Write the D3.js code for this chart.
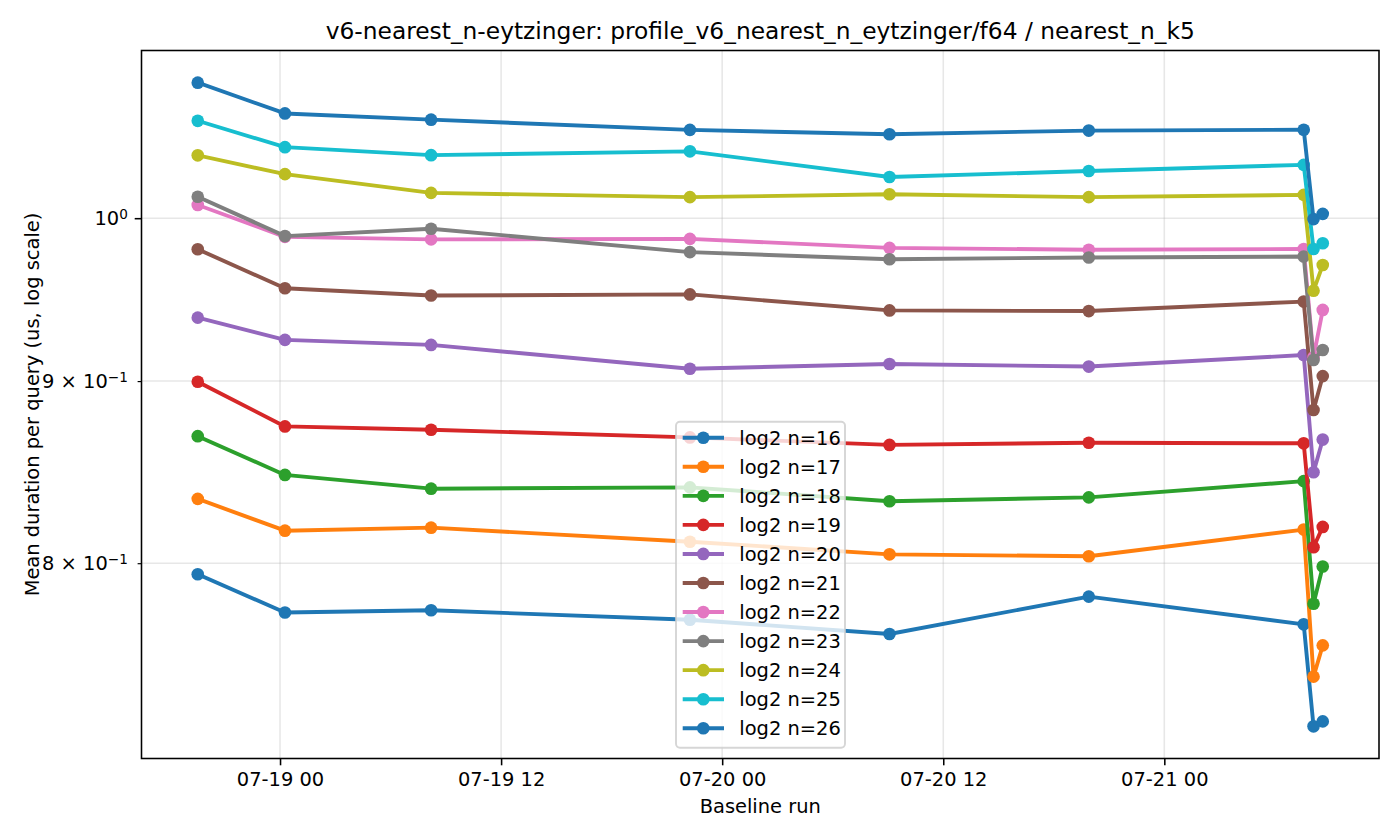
<!DOCTYPE html>
<html lang="en">
<head>
<meta charset="UTF-8">
<script src="https://d3js.org/d3.v7.min.js"></script>
<style>
    body{ margin:0; background:#fff; }
    text{ font-family:"DejaVu Sans", sans-serif; fill:#000; }
</style>
<title>v6-nearest_n-eytzinger</title>
</head>
<body>
<div class="canvas"></div>
<script>
// baseline run timestamps (UTC)
const runTimes = ['2025-07-18 19:32', '2025-07-19 00:16', '2025-07-19 08:12', '2025-07-19 22:15',
                  '2025-07-20 09:05', '2025-07-20 19:54', '2025-07-21 07:34', '2025-07-21 08:06', '2025-07-21 08:36'];

// mean duration per query (us), one array per log2 n
const n16 = [0.7943, 0.7749, 0.7760, 0.7713, 0.7642, 0.7829, 0.7690, 0.7199, 0.7222];
const n17 = [0.8340, 0.8170, 0.8186, 0.8112, 0.8046, 0.8036, 0.8176, 0.7434, 0.7586];
const n18 = [0.8685, 0.8470, 0.8395, 0.8402, 0.8327, 0.8348, 0.8436, 0.7793, 0.7983];
const n19 = [0.8996, 0.8740, 0.8721, 0.8678, 0.8636, 0.8648, 0.8645, 0.8083, 0.8190];
const n20 = [0.9377, 0.9243, 0.9213, 0.9072, 0.9100, 0.9085, 0.9153, 0.8485, 0.8666];
const n21 = [0.9801, 0.9557, 0.9512, 0.9519, 0.9421, 0.9417, 0.9475, 0.8833, 0.9029];
const n22 = [1.0086, 0.9880, 0.9864, 0.9867, 0.9810, 0.9798, 0.9803, 0.9140, 0.9424];
const n23 = [1.0140, 0.9885, 0.9932, 0.9783, 0.9738, 0.9749, 0.9755, 0.9124, 0.9183];
const n24 = [1.0415, 1.0289, 1.0165, 1.0137, 1.0156, 1.0137, 1.0152, 0.9542, 0.9702];
const n25 = [1.0650, 1.0470, 1.0416, 1.0442, 1.0270, 1.0310, 1.0351, 0.9803, 0.9839];
const n26 = [1.0916, 1.0701, 1.0658, 1.0588, 1.0558, 1.0583, 1.0589, 0.9994, 1.0028];

const seriesNames = ['log2 n=16','log2 n=17','log2 n=18','log2 n=19','log2 n=20','log2 n=21',
                     'log2 n=22','log2 n=23','log2 n=24','log2 n=25','log2 n=26'];
const seriesColors = ['#1f77b4','#ff7f0e','#2ca02c','#d62728','#9467bd','#8c564b',
                      '#e377c2','#7f7f7f','#bcbd22','#17becf','#1f77b4'];

// log axis ticks: value, mantissa text, exponent
const yTicks = [0.8, 0.9, 1.0];
const yTickBase = ['8 × 10', '9 × 10', '10'];
const yTickExp = ['−1', '−1', '0'];

const width = 1400;
const height = 840;
let [mt, mb, mr, ml] = [50.5, 81.5, 21, 141.5];
const graphWidth = width - ml - mr;
const graphHeight = height - mt - mb;

// figure was drawn at 140 dpi: 1pt = 1.944px
const pt = 140 / 72;
const fs = 10 * pt;
const lw = 2 * pt;
const mr2 = 3.25 * pt;

const svg = d3.select('.canvas')
              .append('svg')
              .attr('width', width)
              .attr('height', height);

const parseTime = d3.utcParse('%Y-%m-%d %H:%M');
const times = runTimes.map(parseTime);
const allSeries = [n16, n17, n18, n19, n20, n21, n22, n23, n24, n25, n26];

// 5% margins like matplotlib (log space for y)
const tExt = d3.extent(times);
const tPad = (tExt[1] - tExt[0]) * 0.05;
const x = d3.scaleUtc()
            .domain([new Date(+tExt[0] - tPad), new Date(+tExt[1] + tPad)])
            .range([0, graphWidth]);

const logExt = d3.extent(allSeries.flat(), v => Math.log10(v));
const lPad = (logExt[1] - logExt[0]) * 0.05;
const y = d3.scaleLog()
            .domain([Math.pow(10, logExt[0] - lPad), Math.pow(10, logExt[1] + lPad)])
            .range([graphHeight, 0]);

const graph = svg.append('g')
                 .attr('transform', `translate(${ml},${mt})`);

// grid
const xTicks = x.ticks(d3.utcHour.every(12));
graph.append('g').selectAll('line')
     .data(xTicks).enter().append('line')
     .attr('x1', d => x(d)).attr('x2', d => x(d))
     .attr('y1', 0).attr('y2', graphHeight)
     .attr('stroke', '#b0b0b0').attr('stroke-opacity', 0.3).attr('stroke-width', 0.8 * pt);
graph.append('g').selectAll('line')
     .data(yTicks).enter().append('line')
     .attr('x1', 0).attr('x2', graphWidth)
     .attr('y1', d => y(d)).attr('y2', d => y(d))
     .attr('stroke', '#b0b0b0').attr('stroke-opacity', 0.3).attr('stroke-width', 0.8 * pt);

// axes
const xAxisG = graph.append('g').attr('transform', `translate(0,${graphHeight})`);
xAxisG.call(d3.axisBottom(x)
              .tickValues(xTicks)
              .tickFormat(d3.utcFormat('%m-%d %H'))
              .tickSize(3.5 * pt).tickPadding(3.5 * pt));
xAxisG.select('.domain').remove();
xAxisG.selectAll('line').attr('stroke', '#000').attr('stroke-width', 0.8 * pt);
xAxisG.selectAll('text').style('font-size', fs + 'px').attr('fill', '#000')
      .style('font-family', '"DejaVu Sans", sans-serif');

const yAxisG = graph.append('g');
yAxisG.call(d3.axisLeft(y).tickValues(yTicks).tickFormat('').tickSize(3.5 * pt).tickPadding(3.5 * pt));
yAxisG.select('.domain').remove();
yAxisG.selectAll('.tick line')
      .attr('stroke', '#000')
      .attr('x2', d => d === 1 ? -3.5 * pt : -2 * pt)
      .attr('stroke-width', d => d === 1 ? 0.8 * pt : 0.6 * pt);
yAxisG.selectAll('.tick text')
      .attr('x', -7 * pt)
      .attr('dy', '0.32em')
      .style('font-size', fs + 'px')
      .style('font-family', '"DejaVu Sans", sans-serif')
      .attr('fill', '#000')
      .each(function(d, i) {
          const t = d3.select(this);
          t.append('tspan').text(yTickBase[i]);
          t.append('tspan').attr('dy', '-0.45em').style('font-size', (fs * 0.7) + 'px').text(yTickExp[i]);
      });

// lines + markers
const line = d3.line()
               .x((d, i) => x(times[i]))
               .y(d => y(d));

allSeries.forEach((vals, k) => {
    const g = graph.append('g');
    g.append('path')
     .attr('d', line(vals))
     .attr('fill', 'none')
     .attr('stroke', seriesColors[k])
     .attr('stroke-width', lw)
     .attr('stroke-linejoin', 'round')
     .attr('stroke-linecap', 'square');
    g.selectAll('circle')
     .data(vals).enter().append('circle')
     .attr('cx', (d, i) => x(times[i]))
     .attr('cy', d => y(d))
     .attr('r', mr2)
     .attr('fill', seriesColors[k]);
});

// frame
graph.append('rect')
     .attr('width', graphWidth).attr('height', graphHeight)
     .attr('fill', 'none').attr('stroke', '#000').attr('stroke-width', 0.8 * pt);

// legend
const lx = 676 - ml, ly = 421.7 - mt;
const legend = graph.append('g').attr('transform', `translate(${lx},${ly})`);
legend.append('rect')
      .attr('width', 169).attr('height', 326)
      .attr('rx', 0.2 * fs)
      .attr('fill', '#fff').attr('fill-opacity', 0.8)
      .attr('stroke', '#cccccc').attr('stroke-opacity', 0.8).attr('stroke-width', 1 * pt);
const items = legend.selectAll('.item')
                    .data(seriesNames).enter().append('g')
                    .attr('transform', (d, i) => `translate(0,${16 + i * 29.06})`);
items.append('line')
     .attr('x1', 6.7).attr('x2', 48)
     .attr('stroke', (d, i) => seriesColors[i]).attr('stroke-width', lw);
items.append('circle')
     .attr('cx', 27.3).attr('r', mr2)
     .attr('fill', (d, i) => seriesColors[i]);
items.append('text')
     .attr('x', 63.3).attr('dy', '0.36em')
     .style('font-size', fs + 'px')
     .text(d => d);

// titles
svg.append('text')
   .attr('x', ml + graphWidth / 2).attr('y', 39)
   .attr('text-anchor', 'middle')
   .style('font-size', (12 * pt) + 'px')
   .text('v6-nearest_n-eytzinger: profile_v6_nearest_n_eytzinger/f64 / nearest_n_k5');
svg.append('text')
   .attr('x', ml + graphWidth / 2).attr('y', 813)
   .attr('text-anchor', 'middle')
   .style('font-size', fs + 'px')
   .text('Baseline run');
svg.append('text')
   .attr('transform', `translate(39,${mt + graphHeight / 2}) rotate(-90)`)
   .attr('text-anchor', 'middle')
   .style('font-size', fs + 'px')
   .text('Mean duration per query (us, log scale)');
</script>
</body>
</html>
